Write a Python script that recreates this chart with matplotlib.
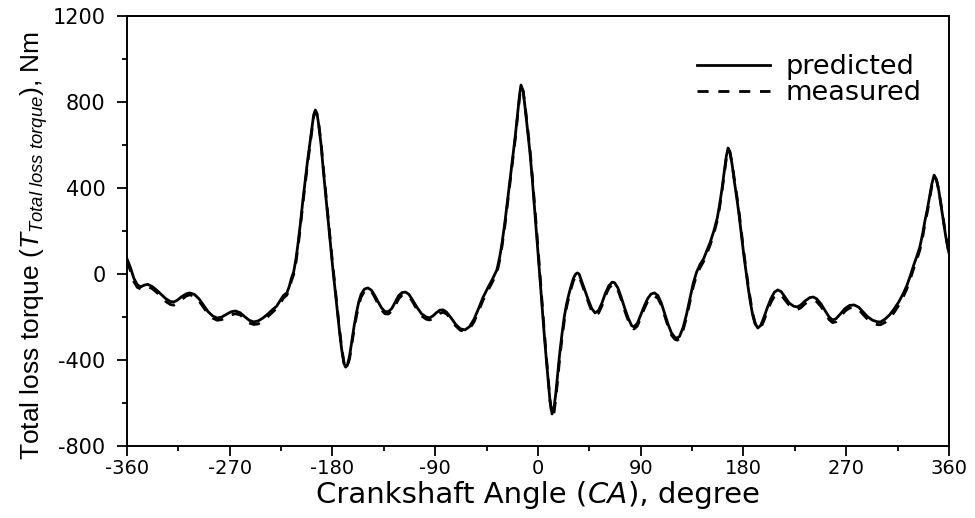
import matplotlib
matplotlib.use("Agg")
import matplotlib.pyplot as plt
from matplotlib.ticker import MultipleLocator
from matplotlib import font_manager
from matplotlib.font_manager import FontProperties
from matplotlib.offsetbox import TextArea, HPacker, AnchoredOffsetbox

# ---------------- data ----------------
angle = [-360, -357, -354, -351, -348, -345, -342, -338, -334, -330,
         -326, -322, -319, -316, -312, -308, -305, -301, -297, -293,
         -289, -285, -281, -277, -273, -269, -265, -261, -257, -253,
         -249, -245, -241, -237, -233, -229, -226, -223, -220, -218,
         -216, -214, -212, -210, -208, -206, -204, -202, -200, -198,
         -196.5, -195, -193.5, -192, -190, -188, -186, -184, -182, -180,
         -178, -176, -174, -172, -170, -168.5, -167, -165, -163, -161,
         -159, -157, -155, -152, -149, -146, -143, -140, -137, -134,
         -131, -128, -125, -122, -119, -116, -113, -110, -106, -102,
         -98, -95, -92, -89, -86, -83, -80, -76, -72, -68,
         -64, -60, -56, -52, -48, -44, -40, -36, -33.5, -31.5,
         -29, -26.5, -24, -22, -20, -18, -16, -14.9, -13, -11,
         -9, -7, -5, -3, -1, 1, 3, 5, 7, 9,
         10.5, 12.3, 14, 15.5, 17, 19, 21, 23, 25, 27,
         29, 31, 33, 34.5, 36, 38, 41, 44, 47, 50,
         53, 56, 59, 62, 65, 67, 70, 73, 76, 79,
         82, 84, 87, 90, 93, 96, 99, 102, 105, 108,
         111, 114, 117, 120, 122, 124, 127, 130, 133, 136,
         139, 142, 145, 148, 151, 154, 157, 159, 161, 163,
         165, 166.5, 168, 170, 172, 174, 176, 178, 180, 182,
         184, 186, 188, 190, 192.5, 195, 198, 201, 204, 207,
         210, 213, 216, 220, 224, 227, 230, 234, 238, 241,
         244, 248, 252, 255, 258, 261, 265, 269, 273, 277,
         281, 285, 289, 293, 297, 300, 304, 308, 312, 316,
         320, 323, 326, 329, 332, 334.5, 337, 339, 341, 343,
         345, 347, 349, 351, 353, 355, 357, 359, 360]

predicted = [70, 30, -20, -50, -60, -52, -48, -58, -75, -95,
             -115, -128, -130, -122, -105, -92, -88, -95, -115, -145,
             -175, -195, -205, -200, -188, -176, -172, -180, -198, -215,
             -223, -218, -205, -188, -168, -150, -125, -100, -88, -60,
             -20, 10, 70, 150, 240, 340, 430, 520, 600, 680,
             740, 763, 745, 690, 600, 480, 370, 260, 150, 40,
             -60, -160, -260, -350, -415, -433, -425, -380, -310, -240,
             -180, -130, -95, -70, -65, -75, -100, -130, -158, -175,
             -175, -160, -130, -100, -86, -84, -95, -120, -155, -185,
             -200, -204, -195, -180, -168, -167, -178, -205, -235, -255,
             -260, -245, -210, -160, -107, -65, -25, 19, 80, 144,
             240, 350, 460, 550, 637, 740, 840, 879, 850, 760,
             660, 563, 440, 305, 172, 30, -110, -250, -380, -500,
             -590, -651, -620, -560, -480, -370, -280, -200, -140, -95,
             -55, -20, 0, 5, 0, -30, -75, -120, -160, -181,
             -170, -135, -90, -55, -38, -40, -65, -110, -160, -205,
             -240, -246, -230, -190, -150, -115, -93, -88, -100, -135,
             -185, -235, -275, -295, -298, -290, -250, -190, -115, -42,
             10, 45, 70, 110, 150, 200, 260, 320, 390, 470,
             550, 586, 570, 510, 430, 358, 280, 190, 100, 20,
             -60, -130, -190, -230, -251, -240, -200, -155, -115, -85,
             -74, -82, -105, -135, -150, -153, -145, -125, -110, -107,
             -115, -140, -175, -200, -214, -208, -185, -160, -146, -144,
             -155, -178, -200, -215, -222, -223, -210, -190, -162, -130,
             -90, -55, -10, 40, 85, 126, 190, 250, 300, 360,
             420, 460, 440, 390, 320, 250, 180, 120, 98]

measured = [60, 15, -35, -62, -70, -60, -58, -68, -85, -108,
            -128, -142, -145, -135, -118, -102, -97, -103, -125, -155,
            -185, -205, -215, -212, -200, -190, -185, -190, -208, -228,
            -235, -232, -218, -200, -180, -160, -138, -112, -98, -72,
            -32, -2, 55, 135, 225, 325, 415, 505, 588, 668,
            730, 755, 742, 695, 610, 492, 382, 272, 162, 52,
            -48, -148, -250, -342, -410, -435, -432, -392, -325, -255,
            -195, -145, -108, -80, -72, -80, -108, -140, -168, -185,
            -186, -172, -145, -115, -98, -95, -102, -128, -165, -195,
            -210, -214, -208, -195, -183, -178, -186, -212, -242, -262,
            -266, -255, -222, -172, -120, -78, -38, 5, 66, 130,
            226, 336, 446, 538, 625, 728, 830, 872, 852, 768,
            672, 578, 455, 322, 190, 48, -92, -232, -365, -490,
            -585, -662, -645, -585, -505, -392, -300, -218, -155, -108,
            -68, -32, -12, -8, -12, -40, -85, -130, -172, -192,
            -182, -148, -102, -66, -50, -50, -75, -120, -172, -215,
            -250, -256, -242, -202, -162, -128, -108, -104, -112, -145,
            -195, -245, -285, -304, -308, -300, -262, -204, -130, -58,
            -5, 30, 58, 96, 138, 188, 248, 308, 378, 458,
            540, 578, 568, 515, 440, 370, 292, 202, 112, 32,
            -48, -118, -180, -225, -255, -252, -215, -170, -132, -105,
            -92, -98, -118, -145, -160, -165, -158, -138, -125, -122,
            -128, -152, -188, -212, -226, -222, -198, -172, -158, -155,
            -165, -190, -212, -228, -235, -236, -225, -205, -178, -145,
            -105, -70, -25, 25, 70, 112, 175, 236, 288, 348,
            410, 452, 438, 392, 325, 255, 185, 125, 100]

xticks = [-360, -270, -180, -90, 0, 90, 180, 270, 360]
yticks = [-800, -400, 0, 400, 800, 1200]

# ---------------- fonts ----------------
names = {f.name for f in font_manager.fontManager.ttflist}
lib = "Liberation Sans" if "Liberation Sans" in names else "DejaVu Sans"
wide = "DejaVu Sans"
plt.rcParams["font.family"] = [wide]
plt.rcParams["axes.unicode_minus"] = False
plt.rcParams["mathtext.fontset"] = "custom"
plt.rcParams["mathtext.rm"] = lib
plt.rcParams["mathtext.it"] = lib + ":italic"

fig = plt.figure(figsize=(9.75, 5.18), dpi=100)
ax = fig.add_axes([127 / 975, 72 / 518, (949 - 127) / 975, (446 - 16) / 518])

ax.plot(angle, predicted, color="black", lw=2.0, solid_joinstyle="round",
        label="predicted")
ax.plot(angle, measured, color="black", lw=2.0, dashes=(4, 3.5),
        label="measured")

ax.set_xlim(-360, 360)
ax.set_ylim(-800, 1200)
ax.set_xticks(xticks)
ax.set_yticks(yticks)
ax.xaxis.set_minor_locator(MultipleLocator(45))
ax.yaxis.set_minor_locator(MultipleLocator(200))
ax.tick_params(which="both", direction="out", top=False, right=False,
               width=1.3, colors="black")
ax.tick_params(which="major", length=7.5)
ax.tick_params(which="minor", length=3.8)
ax.tick_params(axis="y", which="major", pad=8, labelsize=15)
ax.tick_params(axis="x", which="major", pad=2, labelsize=14)
for s in ax.spines.values():
    s.set_linewidth(1.4)

# x label built from three text pieces so that only "CA" is italic
xl_y = (518 - 495) / 518
fs_x = 21
p1 = TextArea("Crankshaft Angle (", textprops=dict(fontsize=fs_x, family=wide))
p2 = TextArea("CA", textprops=dict(fontsize=fs_x, family=wide, style="italic"))
p3 = TextArea("), degree", textprops=dict(fontsize=fs_x, family=wide))
box = HPacker(children=[p1, p2, p3], align="baseline", pad=0, sep=0)
anch = AnchoredOffsetbox(loc="center", child=box, pad=0, frameon=False,
                         bbox_to_anchor=(538 / 975, xl_y),
                         bbox_transform=fig.transFigure, borderpad=0)
fig.add_artist(anch)

yfp = FontProperties(family=lib, size=19)
ax.set_ylabel("Total loss torque ($T_{Total\\ loss\\ torque}$), Nm",
              fontproperties=yfp)
ax.yaxis.set_label_coords(-0.094, 0.467)

leg = ax.legend(loc="upper left", bbox_to_anchor=(697 / 975, (518 - 54) / 518),
                bbox_transform=fig.transFigure, frameon=False,
                prop=FontProperties(family=wide, size=19.5),
                handlelength=2.7, handletextpad=0.55,
                labelspacing=0.0, borderaxespad=0, borderpad=0)

fig.savefig("out.png", dpi=100)
